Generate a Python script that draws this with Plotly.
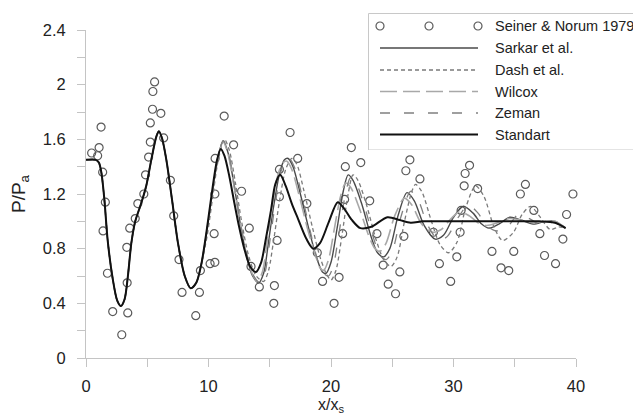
import plotly.graph_objects as go

# ---- measured data (Seiner & Norum 1979) ----
seiner_x = [0.46, 0.95, 1.07, 1.23, 1.36, 1.58, 1.39, 1.75, 2.18, 2.92, 3.41, 3.36, 3.33, 3.57, 4.02,
            4.23, 4.72, 4.86, 5.11, 5.25, 5.25, 5.43, 5.46, 5.60, 6.11, 6.34, 6.89, 7.16, 7.59, 7.84,
            8.96, 9.26, 9.34,
            10.13, 10.52, 10.46, 10.52, 10.54, 11.28, 12.05, 12.70, 13.33, 13.47, 14.15, 15.38, 15.33,
            15.60, 15.79, 15.79, 16.66, 17.28, 18.03, 18.88, 19.31, 20.25, 20.66, 20.95, 21.11, 21.17,
            21.66, 22.43, 23.16, 23.75, 24.26, 24.67, 25.27, 25.62, 25.95, 26.11, 26.44, 27.26, 28.36,
            28.85,
            29.77, 30.27, 30.54, 30.62, 30.87, 30.95, 31.31, 31.97, 33.14, 33.88, 34.51, 34.92, 35.46,
            35.87, 36.56, 37.05, 37.43, 38.33, 38.93, 39.23, 39.75]
seiner_y = [1.50, 1.48, 1.54, 1.69, 1.36, 1.14, 0.93, 0.62, 0.34, 0.17, 0.33, 0.55, 0.81, 0.95, 1.02,
            1.13, 1.20, 1.34, 1.47, 1.58, 1.72, 1.82, 1.95, 2.02, 1.79, 1.61, 1.30, 1.04, 0.72, 0.48,
            0.31, 0.48, 0.64,
            0.69, 0.70, 0.91, 1.20, 1.46, 1.77, 1.56, 1.22, 0.95, 0.67, 0.52, 0.53, 0.40,
            0.86, 1.18, 1.38, 1.65, 1.46, 1.13, 0.77, 0.56, 0.40, 0.59, 0.91, 1.16, 1.40,
            1.54, 1.43, 1.15, 0.91, 0.68, 0.54, 0.47, 0.63, 0.89, 1.37, 1.45, 1.31, 0.92,
            0.69,
            0.56, 0.74, 0.92, 1.08, 1.26, 1.35, 1.41, 1.24, 0.78, 0.66, 0.64, 0.78, 1.20,
            1.27, 1.08, 0.91, 0.75, 0.69, 0.87, 1.05, 1.20]

# ---- computed pressure profiles ----
# near-nozzle part shared by all models
near_x = [0.0, 0.8, 1.05, 1.25, 1.5, 1.77, 2.18, 2.55, 2.85, 3.15, 3.42, 3.7, 4.02, 4.5, 4.92,
          5.33, 5.74, 5.95, 6.2, 6.56, 7.02, 7.51, 8.06, 8.55, 9.0, 9.4]
near_y = [1.45, 1.45, 1.43, 1.36, 1.16, 0.86, 0.58, 0.42, 0.38, 0.43, 0.60, 0.84, 1.00, 1.13, 1.26,
          1.45, 1.62, 1.66, 1.61, 1.45, 1.16, 0.84, 0.60, 0.51, 0.55, 0.68]

sarkar_x = near_x + [9.9, 10.3, 10.8, 11.2, 11.6, 12.1, 12.6, 13.1, 13.6, 14.1, 14.5, 14.9, 15.3,
                     15.8, 16.2, 16.5, 16.9, 17.5, 18.2, 18.8, 19.3, 19.6, 20.0, 20.5, 21.0, 21.4,
                     21.8, 22.5, 23.3, 23.8, 24.3, 24.8, 25.5, 26.2, 26.8, 27.6, 28.5, 29.2, 30.0,
                     30.8, 31.6, 32.3, 32.9, 33.7, 34.6, 35.5, 36.5, 37.5, 38.3, 39.15]
sarkar_y = near_y + [0.95, 1.20, 1.48, 1.59, 1.50, 1.26, 0.98, 0.75, 0.60, 0.55, 0.62, 0.85, 1.10,
                     1.35, 1.45, 1.46, 1.40, 1.20, 0.94, 0.74, 0.63, 0.62, 0.70, 0.95, 1.22, 1.34,
                     1.30, 1.13, 0.88, 0.77, 0.74, 0.80, 1.05, 1.21, 1.15, 0.97, 0.87, 0.90, 1.03,
                     1.11, 1.06, 0.98, 0.95, 0.98, 1.03, 1.01, 0.98, 1.00, 1.00, 0.95]

dash_x = near_x + [9.9, 10.3, 10.8, 11.3, 11.7, 12.2, 12.7, 13.3, 13.9, 14.5, 14.9, 15.3, 15.8,
                   16.3, 16.8, 17.2, 17.8, 18.5, 19.1, 19.6, 20.0, 20.4, 20.9, 21.4, 21.8, 22.2,
                   22.9, 23.7, 24.3, 24.9, 25.4, 26.0, 26.6, 26.9, 27.4, 28.2, 28.9, 29.6, 30.3,
                   31.0, 31.8, 32.5, 33.3, 34.0, 34.9, 35.6, 36.3, 37.0, 37.9, 38.6, 39.15]
dash_y = near_y + [0.90, 1.15, 1.45, 1.60, 1.52, 1.28, 1.00, 0.74, 0.60, 0.56, 0.64, 0.85, 1.15,
                   1.38, 1.46, 1.42, 1.22, 0.95, 0.74, 0.62, 0.57, 0.64, 0.90, 1.20, 1.34, 1.30,
                   1.12, 0.86, 0.72, 0.67, 0.74, 1.00, 1.22, 1.27, 1.22, 1.00, 0.83, 0.77, 0.85,
                   1.10, 1.26, 1.18, 0.96, 0.86, 0.92, 1.05, 1.11, 1.04, 0.94, 0.96, 0.95]

wilcox_x = near_x + [9.9, 10.3, 10.8, 11.2, 11.6, 12.1, 12.6, 13.1, 13.6, 14.0, 14.4, 14.8, 15.2,
                     15.7, 16.1, 16.4, 16.8, 17.4, 18.1, 18.7, 19.1, 19.4, 19.8, 20.3, 20.8, 21.2,
                     21.6, 22.3, 23.1, 23.6, 24.0, 24.5, 25.2, 26.0, 26.6, 27.4, 28.3, 29.0, 29.8,
                     30.5, 31.3, 32.0, 32.7, 33.6, 34.5, 35.5, 36.5, 37.5, 38.3, 39.15]
wilcox_y = near_y + [0.95, 1.20, 1.48, 1.58, 1.49, 1.25, 0.98, 0.76, 0.61, 0.56, 0.63, 0.86, 1.11,
                     1.35, 1.43, 1.44, 1.38, 1.19, 0.94, 0.76, 0.66, 0.64, 0.72, 0.96, 1.19, 1.28,
                     1.25, 1.10, 0.89, 0.80, 0.78, 0.84, 1.04, 1.17, 1.12, 0.98, 0.92, 0.94, 1.02,
                     1.07, 1.04, 0.99, 0.97, 0.99, 1.02, 1.01, 0.99, 1.00, 1.00, 0.95]

zeman_x = near_x + [9.9, 10.3, 10.8, 11.2, 11.6, 12.1, 12.6, 13.2, 13.7, 14.2, 14.6, 15.0, 15.4,
                    15.9, 16.3, 16.6, 17.0, 17.6, 18.3, 18.9, 19.4, 19.8, 20.2, 20.7, 21.2, 21.6,
                    22.0, 22.7, 23.5, 24.0, 24.5, 25.0, 25.7, 26.5, 27.1, 27.9, 28.8, 29.5, 30.4,
                    31.2, 32.0, 32.7, 33.5, 34.4, 35.3, 36.2, 37.2, 38.0, 38.6, 39.15]
zeman_y = near_y + [0.94, 1.19, 1.47, 1.59, 1.51, 1.27, 0.99, 0.74, 0.60, 0.55, 0.62, 0.85, 1.10,
                    1.36, 1.45, 1.46, 1.40, 1.20, 0.93, 0.72, 0.62, 0.60, 0.68, 0.94, 1.21, 1.32,
                    1.29, 1.12, 0.87, 0.75, 0.72, 0.78, 1.03, 1.22, 1.16, 0.97, 0.86, 0.89, 1.03,
                    1.12, 1.06, 0.97, 0.93, 0.96, 1.05, 1.02, 0.97, 0.99, 0.98, 0.95]

standart_x = near_x + [9.8, 10.2, 10.7, 11.0, 11.3, 11.7, 12.1, 12.5, 12.92, 13.4, 13.88, 14.3,
                       14.7, 15.1, 15.45, 15.85, 16.3, 16.8, 17.3, 18.0, 18.55, 19.1, 19.8, 20.55,
                       21.1, 21.7, 22.4, 23.3, 24.6, 25.6, 26.5, 27.5, 29.0, 31.0, 33.0, 35.0,
                       37.0, 38.3, 39.15]
standart_y = near_y + [0.90, 1.16, 1.45, 1.53, 1.48, 1.33, 1.14, 0.96, 0.80, 0.67, 0.63, 0.70,
                       0.88, 1.08, 1.27, 1.34, 1.26, 1.13, 1.02, 0.87, 0.80, 0.84, 0.99, 1.14,
                       1.09, 1.01, 0.95, 0.96, 1.03, 1.01, 0.99, 1.00, 1.00, 1.00, 1.00, 1.00,
                       1.00, 0.99, 0.95]

# ---- series styles ----
models = [
    ("Sarkar et al.", sarkar_x, sarkar_y, dict(color="#4a4a4a", width=1.4, dash="solid")),
    ("Dash et al.", dash_x, dash_y, dict(color="#7a7a7a", width=1.3, dash="4px,3px")),
    ("Wilcox", wilcox_x, wilcox_y, dict(color="#a8a8a8", width=1.6, dash="17px,6px")),
    ("Zeman", zeman_x, zeman_y, dict(color="#808080", width=1.3, dash="10px,14px")),
    ("Standart", standart_x, standart_y, dict(color="#111111", width=2.0, dash="solid")),
]
marker_style = dict(symbol="circle-open", size=8, color="#5a5a5a", line=dict(width=1.2, color="#5a5a5a"))

W, H = 633, 414
FONT = "Liberation Sans, Arial, sans-serif"

fig = go.Figure()

fig.add_trace(go.Scatter(x=seiner_x, y=seiner_y, mode="markers", marker=marker_style,
                         showlegend=False, cliponaxis=False))
for name, xs, ys, ln in models:
    fig.add_trace(go.Scatter(x=xs, y=ys, mode="lines", line=dict(shape="spline", smoothing=0.8, **ln),
                             showlegend=False))

# ---- legend panel drawn on its own pixel-scaled axes ----
leg_rows = [26, 48, 70, 91.5, 113, 134.5]
leg_labels = ["Seiner & Norum 1979"] + [m[0] for m in models]
fig.add_shape(type="rect", xref="x2", yref="y2", x0=368.5, x1=645, y0=13.5, y1=150,
              line=dict(color="#c8c8c8", width=1), fillcolor="white", layer="below")
fig.add_trace(go.Scatter(x=[380, 429, 478], y=[leg_rows[0]] * 3, mode="markers", marker=marker_style,
                         xaxis="x2", yaxis="y2", showlegend=False, hoverinfo="skip"))
for (name, xs, ys, ln), ry in zip(models, leg_rows[1:]):
    fig.add_trace(go.Scatter(x=[380, 478], y=[ry, ry], mode="lines", line=ln,
                             xaxis="x2", yaxis="y2", showlegend=False, hoverinfo="skip"))
for lab, ry in zip(leg_labels, leg_rows):
    fig.add_annotation(x=493, y=ry, xref="x2", yref="y2", text=lab, showarrow=False,
                       xanchor="left", yanchor="middle", font=dict(size=14.5, color="#222", family=FONT))

# ---- axis titles ----
fig.add_annotation(x=20 / W, y=1 - 194 / H, xref="paper", yref="paper", text="P/P<sub>a</sub>",
                   showarrow=False, textangle=-90, xanchor="center", yanchor="middle",
                   font=dict(size=19, color="#222", family=FONT))
fig.add_annotation(x=331 / W, y=1 - 405 / H, xref="paper", yref="paper", text="x/x<sub>s</sub>",
                   showarrow=False, xanchor="center", yanchor="middle",
                   font=dict(size=16, color="#222", family=FONT))

axis_common = dict(showgrid=False, zeroline=False, showline=True, linecolor="#c4c4c4", linewidth=1,
                   automargin=False, ticks="outside", tickcolor="#c4c4c4",
                   tickfont=dict(size=16.5, color="#222", family=FONT))

fig.update_layout(
    width=W, height=H,
    margin=dict(l=0, r=0, t=0, b=0),
    paper_bgcolor="white", plot_bgcolor="white",
    xaxis=dict(domain=[86 / W, 576 / W], range=[0, 40], dtick=10, ticklen=8, ticklabelstandoff=5,
               minor=dict(dtick=5, ticks="outside", ticklen=8, tickcolor="#c4c4c4"),
               anchor="y", **axis_common),
    yaxis=dict(domain=[1 - 358 / H, 1 - 30 / H], range=[0, 2.4], dtick=0.4, ticklen=8,
               ticklabelstandoff=8,
               minor=dict(dtick=0.2, ticks="outside", ticklen=8, tickcolor="#c4c4c4"),
               anchor="x", **axis_common),
    xaxis2=dict(domain=[368 / W, 1], range=[368, 633], visible=False, anchor="y2", fixedrange=True,
                automargin=False),
    yaxis2=dict(domain=[1 - 150 / H, 1 - 13 / H], range=[150, 13], visible=False, anchor="x2",
                fixedrange=True, automargin=False),
    showlegend=False,
)

fig.write_html("out.html")
